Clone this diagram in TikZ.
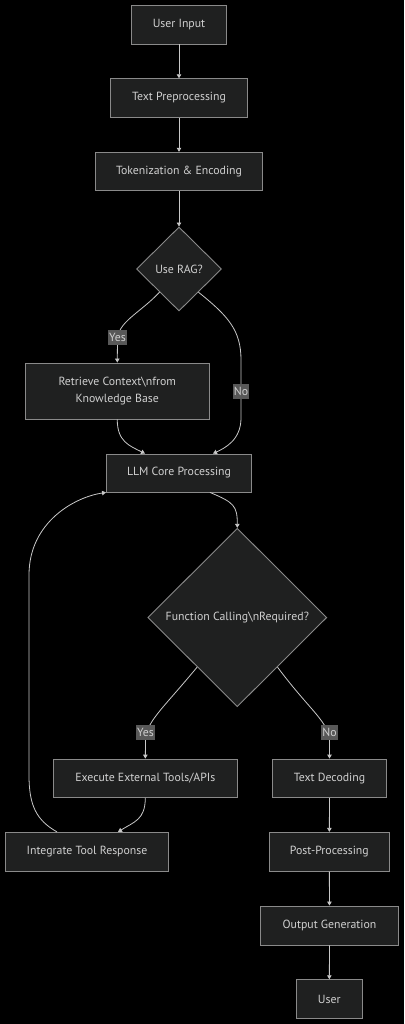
\documentclass[tikz,border=0pt]{standalone}
\usepackage{fontspec}
\setmainfont{PT Sans}
\usetikzlibrary{shapes.geometric,arrows.meta,calc}
\definecolor{nodefill}{HTML}{1F2020}
\definecolor{nodeline}{HTML}{8A8A8A}
\definecolor{edgecol}{HTML}{C8C8C8}
\definecolor{lblfill}{HTML}{585858}
\definecolor{txtcol}{HTML}{D0D0D0}
\tikzset{
  box/.style={draw=nodeline, fill=nodefill, line width=0.9pt, text=txtcol,
    font=\fontsize{11.8}{17}\selectfont, inner sep=0pt, align=center},
  dec/.style={diamond, draw=nodeline, fill=nodefill, line width=0.9pt, text=txtcol,
    font=\fontsize{11.8}{17}\selectfont, inner sep=0pt, align=center},
  conn/.style={draw=edgecol, line width=0.8pt, -{Triangle[length=4pt,width=4.5pt]}},
  lbl/.style={fill=lblfill, text=txtcol, font=\fontsize{11.8}{13}\selectfont,
    inner sep=1.2pt, minimum height=15pt}
}
\begin{document}
\begin{tikzpicture}[x=1pt,y=-1pt]
\fill[black] (0,0) rectangle (404,1024);
\useasboundingbox (0,0) rectangle (404,1024);

\node[box, minimum width=95pt, minimum height=39pt] (ui) at (179,24.5) {User Input};
\node[box, minimum width=137pt, minimum height=38.5pt] (tp) at (179,98) {Text Preprocessing};
\node[box, minimum width=167pt, minimum height=38.5pt] (tok) at (179,171.5) {Tokenization \& Encoding};
\node[dec, minimum width=85pt, minimum height=84pt] (rag) at (179,269) {Use RAG?};
\node[box, minimum width=184.5pt, minimum height=56pt] (ret) at (117.25,391) {Retrieve Context\textbackslash nfrom\\Knowledge Base};
\node[box, minimum width=145pt, minimum height=38pt] (llm) at (179,473) {LLM Core Processing};
\node[dec, minimum width=179pt, minimum height=178.4pt] (fc) at (237.3,617.5) {Function Calling\textbackslash nRequired?};
\node[box, minimum width=184pt, minimum height=38.3pt] (exe) at (145.3,778.2) {Execute External Tools/APIs};
\node[box, minimum width=114.4pt, minimum height=38.3pt] (td) at (329.5,778.2) {Text Decoding};
\node[box, minimum width=163.4pt, minimum height=38.7pt] (itr) at (87,851.7) {Integrate Tool Response};
\node[box, minimum width=120pt, minimum height=38.7pt] (pp) at (329.3,851.7) {Post-Processing};
\node[box, minimum width=138.4pt, minimum height=39pt] (og) at (329.5,925.5) {Output Generation};
\node[box, minimum width=65.3pt, minimum height=39pt] (usr) at (329.3,999.2) {User};

\draw[conn] (ui) -- (tp);
\draw[conn] (tp) -- (tok);
\draw[conn] (tok) -- (rag);
\draw[conn] (rag.230) .. controls (140,313) and (117.5,322) .. (117.5,340) -- (ret.north);
\draw[conn] (rag.310) .. controls (228,316) and (241,330) .. (241,360) -- (241,418)
   .. controls (241,440) and (225,448) .. ([xshift=34pt]llm.north);
\draw[conn] (ret.south) .. controls +(0,22) and +(-16,-8) .. ([xshift=-34pt]llm.north);
\draw[conn] ([xshift=31pt]llm.south) .. controls +(24,10) and +(0,-22) .. (fc.north);
\draw[conn] (fc.231) .. controls (160,712) and (145.5,722) .. (145.5,742) -- (exe.north);
\draw[conn] (fc.309) .. controls (311,712) and (329.5,722) .. (329.5,742) -- (td.north);
\draw[conn] (exe.south) .. controls +(0,22) and +(16,-10) .. ([xshift=31pt]itr.north);
\draw[conn] ([xshift=-30pt]itr.north) .. controls (36,820) and (29,805) .. (29,775) -- (29,575)
   .. controls (29,522) and (75,497) .. (llm.south west);
\draw[conn] (td) -- (pp);
\draw[conn] (pp) -- (og);
\draw[conn] (og) -- (usr);

\node[lbl] (yes1) at (117.5,337.5) {Yes};
\node[lbl] (no1) at (241,391) {No};
\node[lbl] (yes2) at (145.5,732.7) {Yes};
\node[lbl] (no2) at (329.5,732.7) {No};
\end{tikzpicture}
\end{document}
